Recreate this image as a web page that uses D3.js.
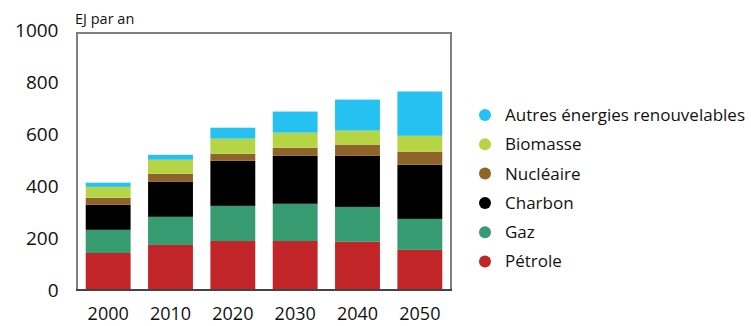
<!DOCTYPE html>
<html>
<head>
<meta charset="utf-8">
<script src="https://cdn.jsdelivr.net/npm/d3@7"></script>
<style>
  html, body { margin: 0; padding: 0; background: #fff; }
  svg { display: block; font-family: "Open Sans", Lato, sans-serif; }
</style>
</head>
<body>
<svg id="chart" width="751" height="326"></svg>
<script>
// Consommation mondiale d'énergie primaire, EJ par an
const years = ["2000", "2010", "2020", "2030", "2040", "2050"];
const petrole  = [142, 173, 188, 188, 185, 154];
const gaz      = [ 89, 108, 135, 143, 134, 119];
const charbon  = [ 96, 134, 173, 184, 196, 208];
const nucleaire= [ 27,  31,  27,  31,  43,  50];
const biomasse = [ 42,  54,  58,  58,  54,  61];
const autres   = [ 16,  19,  42,  81, 119, 170];
const yTicks = [0, 200, 400, 600, 800, 1000];

const seriesNames = ["Pétrole", "Gaz", "Charbon", "Nucléaire", "Biomasse", "Autres énergies renouvelables"];
const seriesValues = [petrole, gaz, charbon, nucleaire, biomasse, autres];
const seriesColors = ["#c22528", "#379b72", "#000000", "#8e6428", "#b5d545", "#25c2f1"];

const rows = years.map((yr, i) => {
  const r = { year: yr };
  seriesNames.forEach((n, k) => { r[n] = seriesValues[k][i]; });
  return r;
});

const svg = d3.select("#chart");
const plotLeft = 77, plotRight = 451, plotTop = 33, plotBottom = 290;

const x = d3.scaleBand().domain(years).range([plotLeft, plotRight])
  .paddingInner(0.28).paddingOuter(0.14);
const y = d3.scaleLinear().domain([0, 1000]).range([plotBottom, 29.5]);

const stack = d3.stack().keys(seriesNames)(rows);

svg.append("g")
  .selectAll("g")
  .data(stack)
  .join("g")
  .attr("fill", (d, i) => seriesColors[i])
  .selectAll("rect")
  .data(d => d)
  .join("rect")
  .attr("x", d => x(d.data.year))
  .attr("width", x.bandwidth())
  .attr("y", d => y(d[1]))
  .attr("height", d => y(d[0]) - y(d[1]));

// plot frame
svg.append("path")
  .attr("d", `M${plotLeft},${plotBottom}V${plotTop}H${plotRight}V${plotBottom}`)
  .attr("fill", "none")
  .attr("stroke", "#7f7f7f")
  .attr("stroke-width", 2);
svg.append("line")
  .attr("x1", plotLeft - 1).attr("x2", plotRight + 1)
  .attr("y1", plotBottom).attr("y2", plotBottom)
  .attr("stroke", "#444")
  .attr("stroke-width", 2);

// y axis labels
const yAxis = d3.axisLeft(y).tickValues(yTicks).tickFormat(d3.format("d"))
  .tickSize(0).tickPadding(0);
const gy = svg.append("g").attr("transform", `translate(${plotLeft - 18.5},0)`).call(yAxis);
gy.select(".domain").remove();
gy.selectAll("text")
  .attr("font-size", 19)
  .attr("font-family", "'Open Sans', sans-serif")
  .attr("fill", "#111")
  .attr("dy", "0.35em");

// x axis labels
const xAxis = d3.axisBottom(x).tickSize(0).tickPadding(0);
const gx = svg.append("g").attr("transform", `translate(0,${plotBottom + 14})`).call(xAxis);
gx.select(".domain").remove();
gx.selectAll("text")
  .attr("font-size", 18)
  .attr("font-family", "'Open Sans', sans-serif")
  .attr("fill", "#111")
  .attr("dy", "0.9em");

// unit label
svg.append("text")
  .attr("x", 75).attr("y", 24)
  .attr("font-size", 14.5)
  .attr("fill", "#111")
  .text("EJ par an");

// legend, top entry is the top of the stack
const legendOrder = seriesNames.map((n, i) => i).reverse();
const lg = svg.append("g");
legendOrder.forEach((k, j) => {
  const cy = 115 + j * 29.3;
  lg.append("circle").attr("cx", 485).attr("cy", cy).attr("r", 6).attr("fill", seriesColors[k]);
  lg.append("text").attr("x", 505).attr("y", cy).attr("dy", "0.35em")
    .attr("font-size", 17).attr("fill", "#111").text(seriesNames[k]);
});
</script>
</body>
</html>
